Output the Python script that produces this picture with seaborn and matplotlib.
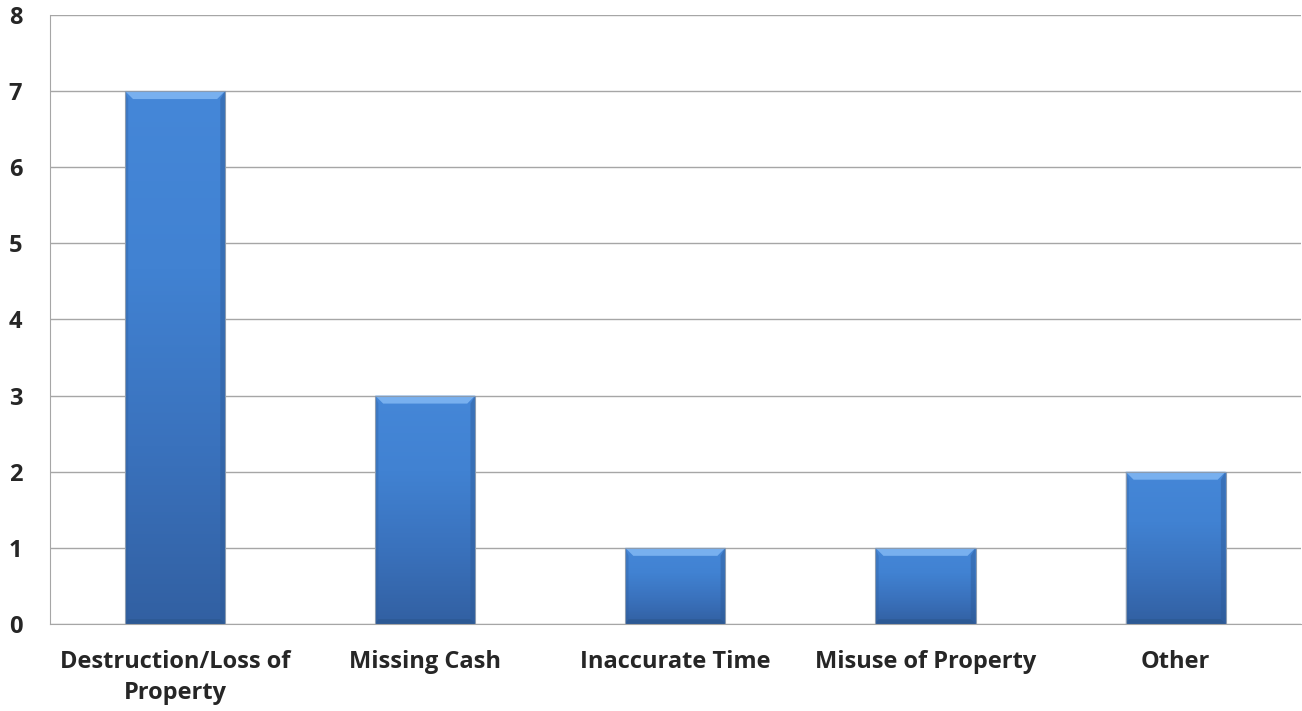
import numpy as np
import pandas as pd
import seaborn as sns
import matplotlib.pyplot as plt
from matplotlib.colors import LinearSegmentedColormap
from matplotlib.patches import Polygon

categories = ["Destruction/Loss of\nProperty", "Missing Cash", "Inaccurate Time",
              "Misuse of Property", "Other"]
counts = [7, 3, 1, 1, 2]

sns.set_style("white")
plt.rcParams['font.family'] = ['Open Sans', 'DejaVu Sans']

fig = plt.figure(figsize=(13.02, 7.11), dpi=100)
ax = fig.add_axes([0.0384, 0.1224, 0.9606, 0.8566])

df = pd.DataFrame({"cat": categories, "n": counts})
sns.barplot(data=df, x="cat", y="n", color="#3f80d2", width=0.4, ax=ax,
            saturation=1, zorder=3)

ax.set_ylim(0, 8)
ax.set_xlim(-0.5, 4.5)

# fake the bevelled gradient fill (excel style)
cmap = LinearSegmentedColormap.from_list("bev", ["#3260a2", "#3a72bd", "#4182d2", "#4587d8"])
grad = np.linspace(0, 1, 256).reshape(-1, 1)
dx, dy = 0.032, 0.105  # bevel size in data units (~8px)
for p in ax.patches:
    x0, y0 = p.get_x(), p.get_y()
    w, h = p.get_width(), p.get_height()
    im = ax.imshow(grad, cmap=cmap, aspect="auto", origin="lower",
                   extent=[x0, x0 + w, y0, y0 + h], zorder=3.5)
    im.set_clip_path(p)
    top = y0 + h
    # top bevel
    ax.add_patch(Polygon([(x0, top), (x0 + w, top), (x0 + w - dx, top - dy), (x0 + dx, top - dy)],
                         closed=True, facecolor="#78b0ef", edgecolor="none", zorder=4))
    # right side shade
    ax.add_patch(Polygon([(x0 + w, top), (x0 + w, y0), (x0 + w - dx * 0.6, y0 + dy * 0.6),
                          (x0 + w - dx * 0.6, top - dy)],
                         closed=True, facecolor="#2d5a96", alpha=0.45, edgecolor="none", zorder=4))
    # left side shade
    ax.add_patch(Polygon([(x0, top), (x0, y0), (x0 + dx * 0.4, y0 + dy * 0.6),
                          (x0 + dx * 0.4, top - dy)],
                         closed=True, facecolor="#2d5a96", alpha=0.3, edgecolor="none", zorder=4))
    # bottom shade
    ax.add_patch(Polygon([(x0, y0), (x0 + w, y0), (x0 + w - dx * 0.6, y0 + dy * 0.6),
                          (x0 + dx * 0.4, y0 + dy * 0.6)],
                         closed=True, facecolor="#25507f", alpha=0.4, edgecolor="none", zorder=4))
    p.set_edgecolor("#8a9bb0")
    p.set_linewidth(0.8)
    p.set_zorder(4.5)
    p.set_facecolor("none")

ax.set_yticks(range(0, 9))
ax.yaxis.grid(True, color="#a6a6a6", linewidth=1.0, zorder=0)
ax.set_axisbelow(True)
ax.set_xlabel("")
ax.set_ylabel("")

for s in ["top", "right"]:
    ax.spines[s].set_visible(False)
ax.spines["left"].set_color("#a6a6a6")
ax.spines["bottom"].set_color("#a6a6a6")

ax.tick_params(axis="y", length=0, pad=20, labelsize=17)
ax.tick_params(axis="x", length=0, pad=18.5, labelsize=17)
for lab in ax.get_xticklabels() + ax.get_yticklabels():
    lab.set_fontweight("bold")
for lab in ax.get_xticklabels():
    lab.set_linespacing(1.4)

fig.savefig("out.png", dpi=100)
